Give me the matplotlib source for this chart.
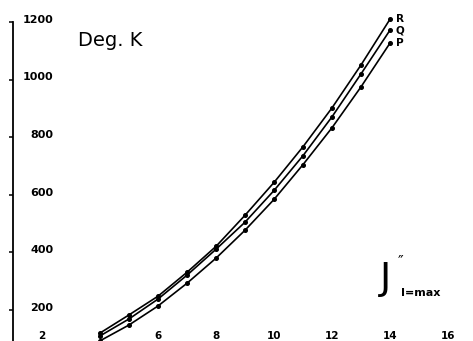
import matplotlib
matplotlib.use("Agg")
import matplotlib.pyplot as plt

# J'' values (rotational quantum number) and temperatures in deg K
j_vals = [4, 5, 6, 7, 8, 9, 10, 11, 12, 13, 14]
temp_R = [120, 183, 248, 331, 421, 529, 643, 767, 902, 1051, 1210]
temp_Q = [110, 169, 238, 321, 411, 505, 615, 736, 871, 1020, 1172]
temp_P = [93, 148, 214, 293, 380, 477, 584, 705, 833, 975, 1127]

y_ticks = [200, 400, 600, 800, 1000, 1200]
x_ticks = [2, 6, 8, 10, 12, 14, 16]

W, H = 473, 341
fig = plt.figure(figsize=(W / 100, H / 100), dpi=100)
ax = fig.add_axes([0, 0, 1, 1])
ax.set_xlim(0.552, 16.86)
ax.set_ylim(92.4, 1276.4)
ax.patch.set_alpha(0)

for s in ['top', 'right', 'bottom']:
    ax.spines[s].set_visible(False)
ax.spines['left'].set_position(('data', 1.0))
ax.spines['left'].set_bounds(92.4, 1200)
ax.spines['left'].set_linewidth(1.3)
ax.set_xticks([])
ax.set_yticks(y_ticks)
ax.tick_params(axis='y', direction='out', length=3, width=1.1, labelleft=False)

# tick labels sit to the right of the axis line
for v in y_ticks:
    xoff = 1.35 if v >= 1000 else 1.6
    ax.text(xoff, v + 8, str(v), ha='left', va='center',
            fontsize=8, fontweight='bold')
for j in x_ticks:
    ax.text(j, 110, str(j), ha='center', va='center',
            fontsize=7.5, fontweight='bold')

for temps, name in [(temp_R, 'R'), (temp_Q, 'Q'), (temp_P, 'P')]:
    ax.plot(j_vals, temps, color='black', lw=1.2, marker='o',
            markersize=2.6, solid_capstyle='round')
    ax.text(j_vals[-1] + 0.2, temps[-1], name, ha='left', va='center',
            fontsize=7.5, fontweight='bold')

ax.text(78 / W, 1 - 40 / H, 'Deg. K', transform=fig.transFigure,
        ha='left', va='center', fontsize=14)
ax.text(380 / W, 1 - 279 / H, 'J', transform=fig.transFigure,
        ha='left', va='center', fontsize=27)
ax.text(398 / W, 1 - 262 / H, '\u2033', transform=fig.transFigure,
        ha='left', va='center', fontsize=11)
ax.text(401 / W, 1 - 293 / H, 'I=max', transform=fig.transFigure,
        ha='left', va='center', fontsize=8, fontweight='bold')

fig.savefig('out.png', dpi=100)
